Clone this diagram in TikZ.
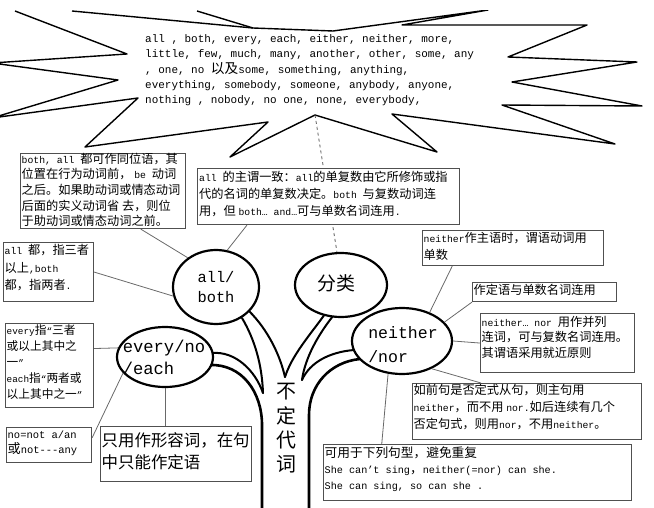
\documentclass[tikz,border=0pt]{standalone}
\usepackage{fontspec}
\setmainfont{Liberation Mono}
\newfontfamily\latinmono{Liberation Mono}
\newfontfamily\cjk[Scale=1.25]{Noto Sans CJK SC}
\usetikzlibrary{shapes.geometric,calc}
\definecolor{boxgray}{RGB}{80,80,80}
\definecolor{conngray}{RGB}{105,105,105}
\definecolor{dashgray}{RGB}{90,90,90}
\XeTeXinterchartokenstate=1
\newXeTeXintercharclass\CJKcls
\newcount\cjkc
\cjkc="2E80
\loop\ifnum\cjkc<"A000 \XeTeXcharclass\cjkc=\CJKcls\relax\advance\cjkc by 1 \repeat
\cjkc="FF00
\loop\ifnum\cjkc<"FFF0 \XeTeXcharclass\cjkc=\CJKcls\relax\advance\cjkc by 1 \repeat
\XeTeXinterchartoks 0 \CJKcls = {\cjk}
\XeTeXinterchartoks 4095 \CJKcls = {\cjk}
\XeTeXinterchartoks \CJKcls 0 = {\latinmono}
\XeTeXinterchartoks 4095 0 = {\latinmono}
\begin{document}
\begin{tikzpicture}[x=1bp,y=-1bp,
  box/.style={draw=boxgray, line width=1.1bp, fill=white, inner sep=0pt, anchor=north west},
  txt/.style={anchor=north west, inner sep=0pt, align=left},
  conn/.style={draw=conngray, line width=0.8bp},
  ell/.style={ellipse, draw, line width=2.2bp, fill=white, inner sep=0pt},
  branch/.style={line width=2bp, line cap=round},
  burst/.style={line width=1.4bp, line join=round},
  ]
\useasboundingbox (0,0) rectangle (654,508);
% starburst
\begin{scope}
\clip (0,11) rectangle (654,508);
\draw[burst] (72,11) -- (253,28) -- (333,31) -- (488,10) -- (402,25) -- (587,25) -- (508,57) -- (637,62) -- (512,82) -- (642,106) -- (502,105) -- (615,144) -- (392,114) -- (437,152) -- (315,115) -- (230,157) -- (268,122) -- (85,147) -- (138,98) -- (-8,118) -- (118,80) -- (-8,63) -- (127,54) -- (15,11);
\draw[burst] (197,11) -- (253,28);
\end{scope}
\coordinate (sbtip) at (315,115);
\node[txt, font=\fontsize{11}{15.5}\selectfont] (sbt) at (145,34) {all , both, every, each, either, neither, more,\\little, few, much, many, another, other, some, any\\, one, no 以及some, something, anything,\\everything, somebody, someone, anybody, anyone,\\nothing , nobody, no one, none, everybody,};
% tree branches
\draw[branch, line width=2.6bp] (262,508) -- (262,425) .. controls (262,392) and (242,364) .. (210,365);
\draw[branch] (212,353) .. controls (235,351) and (255,370) .. (263,393);
\draw[branch] (242,318) .. controls (255,340) and (262,365) .. (263,393);
\draw[branch] (249,311) .. controls (268,330) and (280,355) .. (285,377);
\draw[branch] (325,314) .. controls (310,335) and (292,355) .. (285,377);
\draw[branch] (333,316) .. controls (318,335) and (305,358) .. (302,380);
\draw[branch] (354,350) .. controls (330,352) and (310,362) .. (302,380);
\draw[branch, line width=2.6bp] (309,508) -- (309,415) .. controls (309,385) and (330,362) .. (360,359);
% ellipses
\node[ell, minimum width=86bp, minimum height=74bp] (ab) at (216,287) {};
\node[ell, minimum width=96bp, minimum height=60bp] (ev) at (165,357) {};
\node[ell, minimum width=92bp, minimum height=64bp] (fl) at (341,285) {};
\node[ell, minimum width=100bp, minimum height=66bp] (nn) at (402,341) {};
\node[align=left, inner sep=0pt, font=\fontsize{15.4}{21}\selectfont] (abt) at (ab.center) {all/\\both};
\node[align=left, inner sep=0pt, font=\fontsize{17.2}{22}\selectfont] (evt) at ([xshift=-1bp]ev.center) {every/no\\/each};
\node[inner sep=0pt, font=\fontsize{15.2}{20}\selectfont] (flt) at ([xshift=-5bp,yshift=2bp]fl.center) {分类};
\node[align=left, inner sep=0pt, font=\fontsize{16.6}{24}\selectfont] (nnt) at ([xshift=1bp,yshift=-4bp]nn.center) {neither\\/nor};
\node[align=center, inner sep=0pt, font=\fontsize{16}{24.5}\selectfont] (bddc) at (286,428.5) {不\\定\\代\\词};
% dashed line
\draw[dashed, draw=dashgray, line width=0.8bp] (sbtip) -- (fl.97);
% boxes
\node[box, minimum width=165bp, minimum height=75bp] (b1) at (20,153) {};
\node[box, minimum width=262bp, minimum height=56bp] (b2) at (197,168) {};
\node[box, minimum width=90bp, minimum height=59bp] (b3) at (3,242) {};
\node[box, minimum width=88bp, minimum height=84bp] (b4) at (5,323) {};
\node[box, minimum width=85bp, minimum height=35bp] (b5) at (6,427) {};
\node[box, minimum width=151bp, minimum height=55bp] (b6) at (100,426) {};
\node[box, minimum width=181bp, minimum height=35bp] (b7) at (422,230) {};
\node[box, minimum width=144bp, minimum height=19bp] (b8) at (472,282) {};
\node[box, minimum width=154bp, minimum height=59bp] (b9) at (480,313) {};
\node[box, minimum width=229bp, minimum height=56bp] (b10) at (412,383) {};
\node[box, minimum width=308bp, minimum height=56bp] (b11) at (323,444) {};
% box texts
\node[txt, font=\fontsize{9.8}{15.75}\selectfont] (t1) at (21.5,152.5) {both, all 都可作同位语，其\\位置在行为动词前， be 动词\\之后。如果助动词或情态动词\\后面的实义动词省 去，则位\\于助动词或情态动词之前。};
\node[txt, font=\fontsize{9.8}{17}\selectfont] (t2) at (199,171) {all 的主谓一致：all的单复数由它所修饰或指\\代的名词的单复数决定。both 与复数动词连\\用，但 both… and…可与单数名词连用.};
\node[txt, font=\fontsize{9.8}{17.5}\selectfont] (t3) at (4.5,244.5) {all 都，指三者\\以上,both\\都，指两者.};
\node[txt, font=\fontsize{9.4}{16}\selectfont] (t4) at (6.5,324.5) {every指“三者\\或以上其中之\\一”\\each指“两者或\\以上其中之一”};
\node[txt, font=\fontsize{10.5}{14.5}\selectfont] (t5) at (7.5,431) {no=not a/an\\或not-\kern0pt-\kern0pt-any};
\node[txt, font=\fontsize{13.2}{22}\selectfont] (t6) at (101.5,432) {只用作形容词，在句\\中只能作定语};
\node[txt, font=\fontsize{9.8}{17}\selectfont] (t7) at (423.5,232) {neither作主语时，谓语动词用\\单数};
\node[txt, font=\fontsize{9.8}{15.5}\selectfont] (t8) at (473.5,284) {作定语与单数名词连用};
\node[txt, font=\fontsize{9.8}{15.5}\selectfont] (t9) at (481.5,316) {neither… nor 用作并列\\连词，可与复数名词连用。\\其谓语采用就近原则};
\node[txt, font=\fontsize{9.8}{17.5}\selectfont] (t10) at (413.5,383.5) {如前句是否定式从句，则主句用\\neither，而不用 nor.如后连续有几个\\否定句式，则用nor，不用neither。};
\node[txt, font=\fontsize{10.2}{16}\selectfont] (t11) at (324.5,447) {可用于下列句型，避免重复\\She can’t sing，neither(=nor) can she.\\She can sing, so can she .};
% connectors
\draw[conn] ($(b1.south west)!0.727!(b1.south east)$) -- (ab.134);
\draw[conn] ($(b2.south west)!0.19!(b2.south east)$) -- (ab.73);
\draw[conn] (b3.east) -- (ab.192);
\draw[conn] ($(b4.north east)!0.3!(b4.south east)$) -- (ev.169);
\draw[conn] ($(b5.north east)!0.3!(b5.south east)$) -- (ev.201);
\draw[conn] (ev.south) -- (ev.south |- b6.north);
\draw[conn] ($(b7.south west)!0.166!(b7.south east)$) -- (nn.46);
\draw[conn] (b8.south west) -- (nn.24);
\draw[conn] (b9.west) -- (nn.east);
\draw[conn] ($(b10.north west)!0.30!(b10.north east)$) -- (nn.317);
\draw[conn] ($(b11.north west)!0.19!(b11.north east)$) -- (nn.247);
\end{tikzpicture}
\end{document}
